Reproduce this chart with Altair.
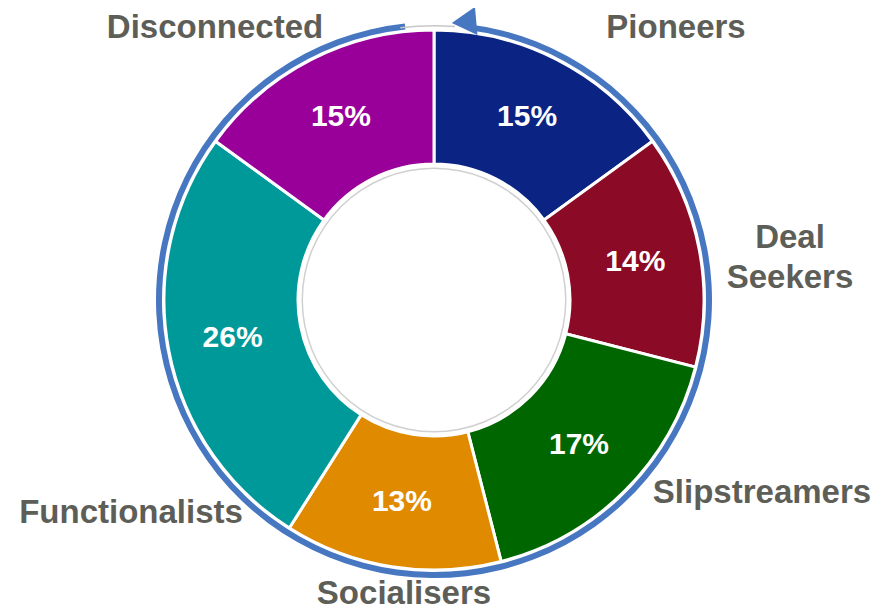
import math
import altair as alt
import pandas as pd

# ---- data ----
segments = ["Pioneers", "Deal Seekers", "Slipstreamers", "Socialisers", "Functionalists", "Disconnected"]
shares = [15, 14, 17, 13, 26, 15]
pct_labels = ["15%", "14%", "17%", "13%", "26%", "15%"]
colors = ["#0B2483", "#8B0A25", "#006600", "#E08A00", "#00999A", "#990099"]

df = pd.DataFrame({"segment": segments, "share": shares, "label": pct_labels,
                   "idx": list(range(len(segments)))})

# ---- layout (plot coordinates) ----
CX, CY = 426, 292
R_IN, R_OUT = 136, 270

outer_text = pd.DataFrame({
    "text": ["Pioneers", "Deal", "Seekers", "Slipstreamers", "Socialisers", "Functionalists", "Disconnected"],
    "px": [668, 782, 782, 754, 396, 123, 207],
    "py": [30, 240, 280, 495, 596, 515, 30],
})

theta_enc = alt.Theta("share:Q", stack=True)
order_enc = alt.Order("idx:Q", sort="ascending")

base = alt.Chart(df).encode(theta=theta_enc, order=order_enc)

slices = base.mark_arc(innerRadius=R_IN, outerRadius=R_OUT, stroke="white", strokeWidth=3).encode(
    x=alt.value(CX), y=alt.value(CY),
    color=alt.Color("segment:N", scale=alt.Scale(domain=segments, range=colors), legend=None),
)

pct = base.mark_text(radius=205, font="Liberation Sans", fontWeight="bold", fontSize=30,
                     color="white", baseline="middle", align="center").encode(
    x=alt.value(CX), y=alt.value(CY), text="label:N")

one = pd.DataFrame({"k": [0]})

ring = alt.Chart(one).mark_arc(theta=0.125, theta2=6.178, innerRadius=272, outerRadius=278,
                               color="#4677C0").encode(x=alt.value(CX), y=alt.value(CY))
gap_line = alt.Chart(one).mark_arc(theta=6.16, theta2=6.36, innerRadius=273.5, outerRadius=275,
                                   color="#c8c8c8").encode(x=alt.value(CX), y=alt.value(CY))
inner_line = alt.Chart(one).mark_arc(theta=0, theta2=2 * math.pi, innerRadius=131, outerRadius=132.5,
                                     color="#d0d0d0").encode(x=alt.value(CX), y=alt.value(CY))
arrow = alt.Chart(one).mark_point(shape="triangle-left", filled=True, size=800, opacity=1,
                                  color="#4677C0", angle=355).encode(x=alt.value(456), y=alt.value(14))

labels = alt.Chart(outer_text).mark_text(font="Liberation Sans", fontWeight="bold", fontSize=33,
                                         color="#5E5E58", baseline="alphabetic", align="center").encode(
    x=alt.X("px:Q", scale=None), y=alt.Y("py:Q", scale=None), text="text:N")

chart = alt.layer(slices, inner_line, pct, ring, gap_line, arrow, labels).properties(
    width=867, height=604, autosize=alt.AutoSizeParams(type="none"), padding=0
).configure_view(stroke=None)

chart.save("out.html", embed_options={"renderer": "svg", "actions": False})
